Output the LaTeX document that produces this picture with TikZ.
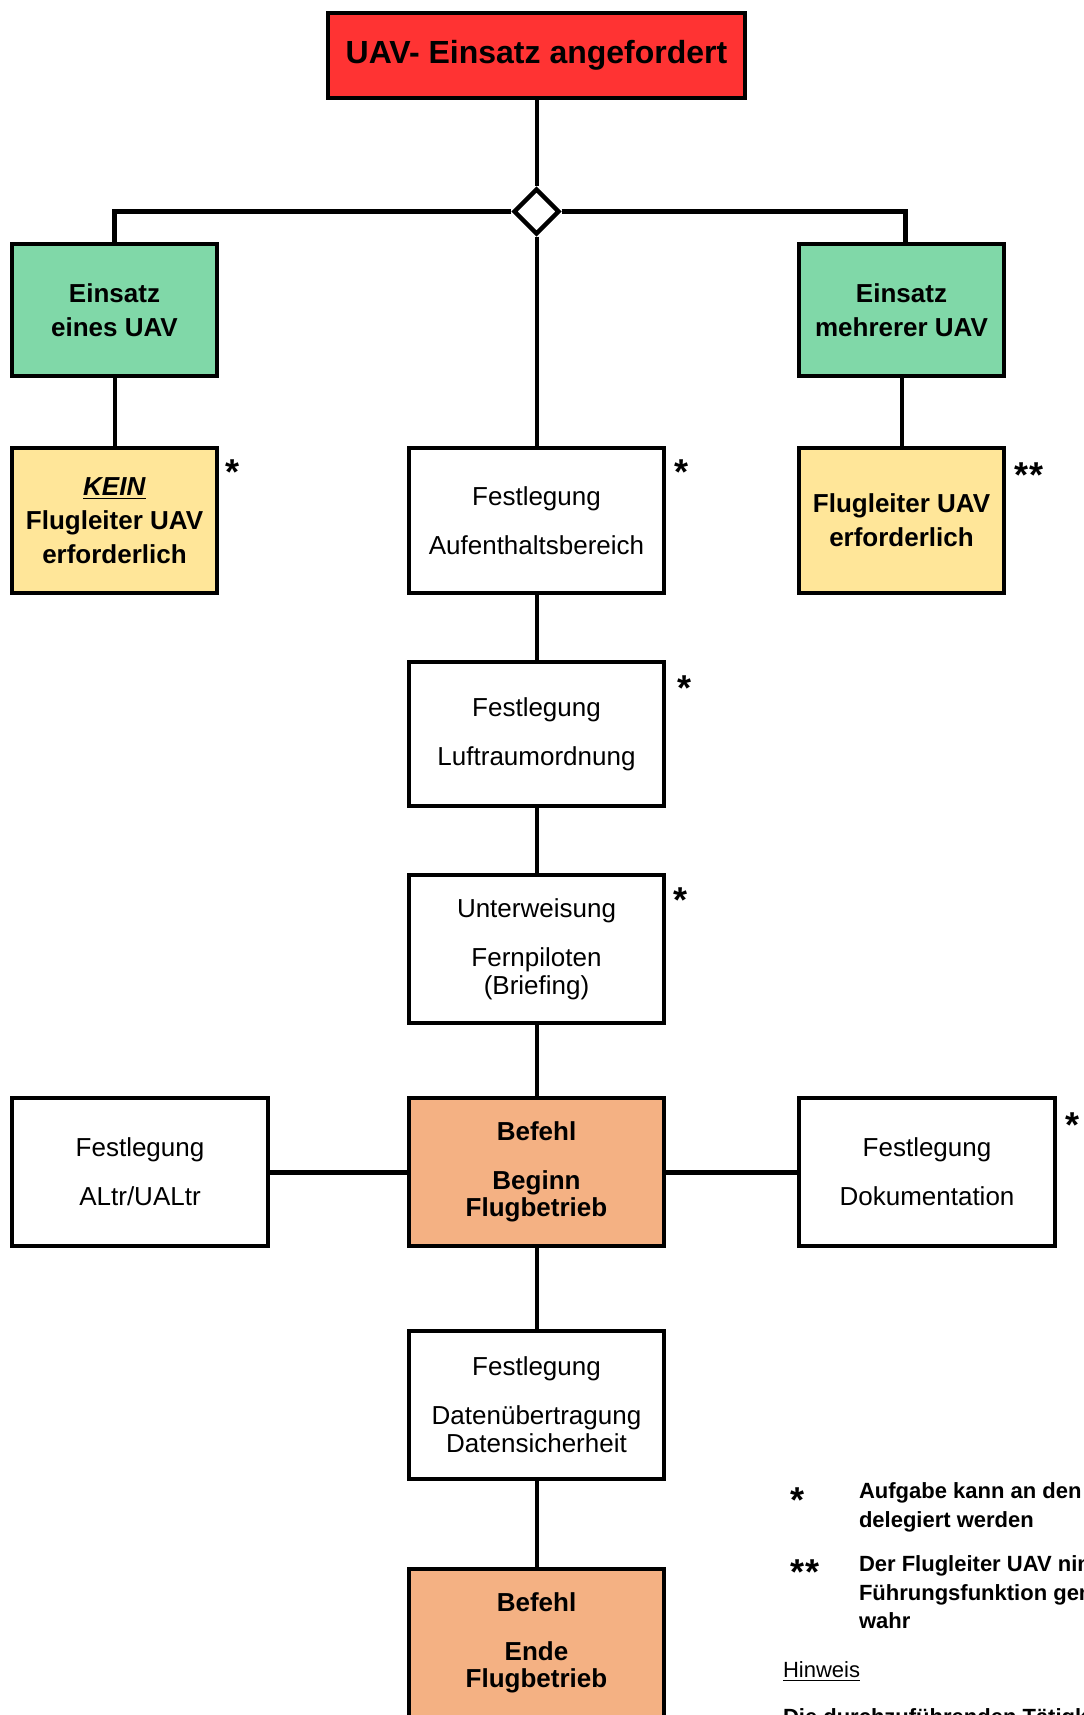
\documentclass[tikz,border=0pt]{standalone}
\usepackage{fontspec}
\setmainfont{Liberation Sans}
\usepackage{tikz}
\usetikzlibrary{shapes.geometric}
\definecolor{red1}{RGB}{255,51,51}
\definecolor{green1}{RGB}{128,216,168}
\definecolor{yellow1}{RGB}{255,230,153}
\definecolor{orange1}{RGB}{244,177,131}

\begin{document}
\begin{tikzpicture}[x=0.5pt,y=-0.5pt,line width=2pt]
  \tikzstyle{box}=[rectangle,draw,line width=2pt,text=black,align=center,inner sep=0pt,font=\fontsize{13}{14}\selectfont]
  \tikzstyle{task}=[box,minimum width=127.5pt,minimum height=74pt]
  \tikzstyle{side}=[task,minimum width=128pt]
  \tikzstyle{order}=[task,fill=orange1,font=\bfseries\fontsize{13}{13.5}\selectfont]
  \tikzstyle{case}=[box,fill=green1,minimum width=102.5pt,minimum height=66pt,font=\bfseries\fontsize{13}{17}\selectfont]
  \tikzstyle{lead}=[case,fill=yellow1,minimum height=72.5pt]
  \tikzstyle{starnote}=[inner sep=0pt,font=\bfseries\fontsize{18}{18}\selectfont]
  \tikzstyle{legend}=[anchor=north west,inner sep=0pt,align=left,font=\bfseries\fontsize{11}{14.2}\selectfont]
  \useasboundingbox (0,0) rectangle (1083,1715);
  \clip (0,0) rectangle (1083,1715);
  \node[box,fill=red1,minimum width=208.5pt,minimum height=42.5pt,font=\bfseries\fontsize{16}{18}\selectfont] (req) at (536.5,55.5) {UAV- Einsatz angefordert};
  \node[diamond,draw,fill=white,line width=2.2pt,inner sep=0pt,minimum width=23pt,minimum height=23pt] (split) at (536.5,211.5) {};
  \node[case]          (one) at (114.5,310)     {Einsatz\\eines UAV};
  \node[case]          (many) at (901.5,310)    {Einsatz\\mehrerer UAV};
  \node[lead]          (nolead) at (114.5,520.5) {\underline{\textit{KEIN}}\\Flugleiter UAV\\erforderlich};
  \node[lead]          (lead) at (901.5,520.5)   {Flugleiter UAV\\erforderlich};
  \node[task,minimum height=72.5pt] (area) at (536.5,520.5) {Festlegung\\[10.5pt]Aufenthaltsbereich};
  \node[task,minimum height=72pt]   (air) at (536.5,734)     {Festlegung\\[10.5pt]Luftraumordnung};
  \node[task]          (brief) at (536.5,949)   {Unterweisung\\[10.5pt]Fernpiloten\\(Briefing)};
  \node[order]         (start) at (536.5,1172)  {Befehl\\[11pt]Beginn\\Flugbetrieb};
  \node[side]          (altr) at (140,1172)     {Festlegung\\[10.5pt]ALtr/UALtr};
  \node[side]          (doc) at (927,1172)      {Festlegung\\[10.5pt]Dokumentation};
  \node[task]          (data) at (536.5,1405)   {Festlegung\\[10.5pt]Datenübertragung\\Datensicherheit};
  \node[order]         (stop) at (536.5,1643)   {Befehl\\[11pt]Ende\\Flugbetrieb};
  \node[starnote]      (s1) at (233,472)  {*};
  \node[starnote]      (s2) at (681,472)  {*};
  \node[starnote]      (s3) at (1029,475) {**};
  \node[starnote]      (s4) at (684,688)  {*};
  \node[starnote]      (s5) at (680,900)  {*};
  \node[starnote]      (s6) at (1072,1125) {*};
  \node[starnote]      (k1) at (797,1500) {*};
  \node[starnote]      (k2) at (805,1572) {**};
  \node[legend]        (t1) at (857,1481) {Aufgabe kann an den T\\delegiert werden};
  \node[legend]        (t2) at (857,1554) {Der Flugleiter UAV nim\\Führungsfunktion gem\\wahr};
  \node[legend,anchor=base west,font=\fontsize{11}{14.2}\selectfont] (hint) at (781,1677) {\underline{Hinweis}};
  \node[legend,anchor=base west] (t3) at (781,1724) {Die durchzuführenden Tätigk};
  \draw (req) -- (split);
  \draw[line width=2.5pt] (split.west) -| (one.north);
  \draw[line width=2.5pt] (split.east) -| ([xshift=2pt]many.north);
  \draw (split) -- (area);
  \draw (one) -- (nolead);
  \draw (many) -- (lead);
  \draw (area) -- (air);
  \draw (air) -- (brief);
  \draw (brief) -- (start);
  \draw (start) -- (data);
  \draw (data) -- (stop);
  \draw[line width=2.5pt] (altr) -- (start);
  \draw[line width=2.5pt] (start) -- (doc);
\end{tikzpicture}
\end{document}
